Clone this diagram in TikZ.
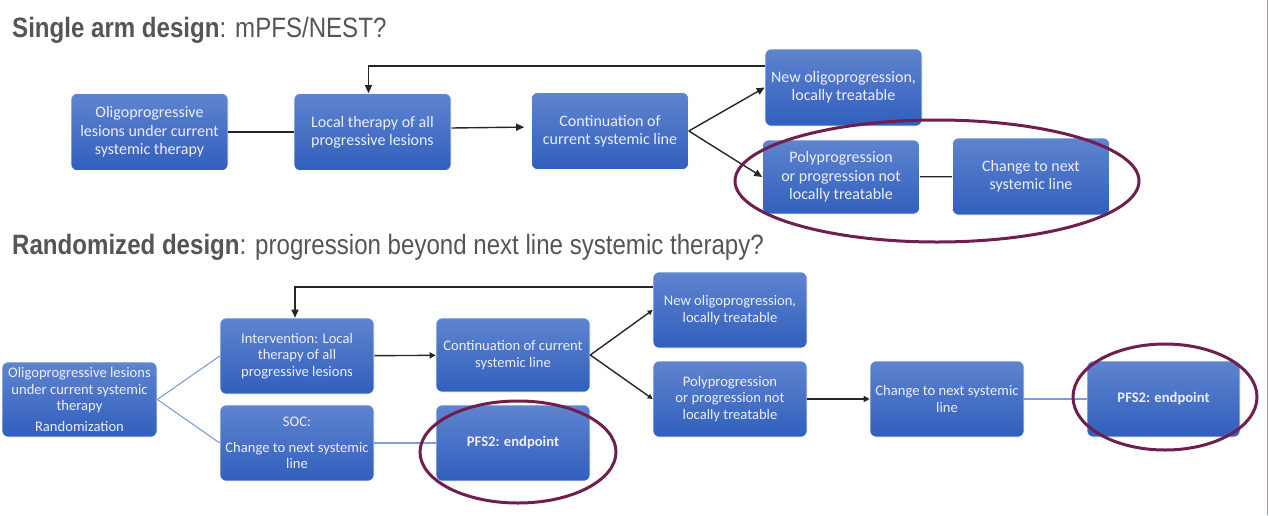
\documentclass[tikz,border=0pt]{standalone}
\usepackage{fontspec}
\setmainfont{Carlito}
\newfontfamily\headfont[FakeStretch=0.86]{Liberation Sans}
\usepackage{xcolor}
\usetikzlibrary{arrows,shapes,positioning,fit,arrows.meta,backgrounds,calc}

\definecolor{boxtop}{HTML}{5F84CF}
\definecolor{boxbot}{HTML}{315FBD}
\definecolor{ringcol}{HTML}{6E1F4E}
\definecolor{thinblue}{HTML}{7E9ED6}
\definecolor{headgray}{HTML}{555555}

\tikzset{
  box/.style={rounded corners=6pt, top color=boxtop, bottom color=boxbot,
    draw=white, line width=0.6pt, text=white!93!blue, align=center, inner sep=2pt,
    minimum width=157pt, minimum height=77pt},
  bigtext/.style={font=\fontsize{16}{18.3}\selectfont},
  smalltext/.style={font=\fontsize{14.6}{16.8}\selectfont},
  arr/.style={-{Triangle[length=8pt,width=7pt]}, line width=1.4pt, black!85},
  link/.style={line width=1.4pt, black!85},
  paleline/.style={line width=1.1pt, thinblue},
  ring/.style={draw=ringcol, line width=3pt},
  head/.style={anchor=west, inner sep=0pt, text=headgray, font=\headfont\fontsize{28}{31}\selectfont}
}

\begin{document}
\begin{tikzpicture}[x=1pt,y=-1pt]
\useasboundingbox (0,0) rectangle (1269,515);

% headings
\node[head] (t1) at (12,30) {\textbf{Single arm design}: mPFS/NEST?};
\node[head] (t2) at (12,247) {\textbf{Randomized design}: progression beyond next line systemic therapy?};

% single arm row
\node[box,bigtext] (a1) at (149.5,132) {Oligoprogressive\\lesions under current\\systemic therapy};
\node[box,bigtext] (a2) at (372.5,132) {Local therapy of all\\progressive lesions};
\node[box,bigtext] (a3) at (610,131) {Continuation of\\current systemic line};
\node[box,bigtext] (a4) at (843.5,87.5) {New oligoprogression,\\locally treatable};
\node[box,bigtext,minimum height=74pt] (a5) at (841,177) {Polyprogression\\or progression not\\locally treatable};
\node[box,bigtext] (a6) at (1031,176.5) {Change to next\\systemic line};

\draw[link] (a1) -- (a2);
\draw[arr,shorten >=7pt] ([yshift=4pt]a2.east) -- ([yshift=4pt]a3.west);
\draw[arr] (a3.east) -- (a4.west);
\draw[arr] (a3.east) -- (a5.west);
\draw[link] (a5) -- (a6);
\draw[arr,line width=1.2pt] ([yshift=21.5pt]a4.west) -| ([xshift=-4pt]a2.north);

\draw[ring] (937,181) ellipse [x radius=202, y radius=61];

% randomized row
\node[box,smalltext,minimum width=155pt,minimum height=75pt] (b1) at (79.5,399.5) {Oligoprogressive lesions\\under current systemic\\therapy\\[4pt]Randomization};
\node[box,smalltext,minimum width=154pt,minimum height=76pt] (b2) at (297,356) {Intervention: Local\\therapy of all\\progressive lesions};
\node[box,smalltext,minimum width=154pt,minimum height=76pt] (b3) at (297,443) {SOC:\\[9pt]Change to next systemic\\line};
\node[box,smalltext,minimum width=154pt,minimum height=74pt] (b4) at (513,355) {Continuation of current\\systemic line};
\node[box,smalltext,minimum width=154pt,minimum height=76pt] (b5) at (513,443) {\textbf{PFS2: endpoint}};
\node[box,smalltext,minimum width=154pt,minimum height=76pt] (b6) at (730,310) {New oligoprogression,\\locally treatable};
\node[box,smalltext,minimum width=154pt,minimum height=76pt] (b7) at (730,399) {Polyprogression\\or progression not\\locally treatable};
\node[box,smalltext,minimum width=154pt,minimum height=76pt] (b8) at (947,399) {Change to next systemic\\line};
\node[box,smalltext,minimum width=153pt,minimum height=76pt] (b9) at (1163.5,399) {\textbf{PFS2: endpoint}};

\draw[paleline] (b1.east) -- (b2.west);
\draw[paleline] (b1.east) -- (b3.west);
\draw[arr,-{Triangle[length=6pt,width=6pt]}] (b2) -- (b4);
\draw[paleline] (b3) -- (b5);
\draw[arr,-{Triangle[length=5pt,width=5pt]}] (b4.east) -- (b6.west);
\draw[arr,-{Triangle[length=5pt,width=5pt]}] (b4.east) -- (b7.west);
\draw[arr,-{Triangle[length=6pt,width=6pt]}] (b7) -- (b8);
\draw[paleline] (b8) -- (b9);
\draw[arr,line width=1.2pt] ([yshift=23pt]b6.west) -| ([xshift=-2pt]b2.north);

\draw[ring] (518,452) ellipse [x radius=98, y radius=51];
\draw[ring] (1165,397) ellipse [x radius=92, y radius=53];

% slide edge
\draw[thinblue,line width=1.5pt] (1267.5,0) -- (1267.5,515);
\end{tikzpicture}
\end{document}
